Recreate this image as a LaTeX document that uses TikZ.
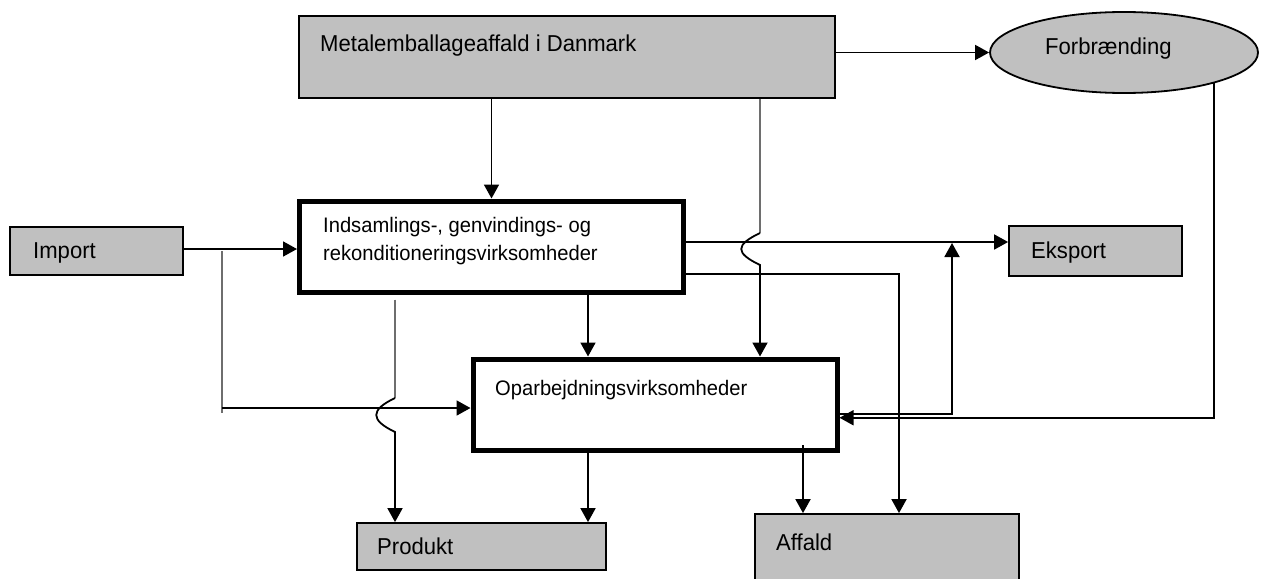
\documentclass[tikz,border=0pt]{standalone}
\usepackage{fontspec}
\setmainfont{Liberation Sans}
\newfontfamily\boxfont[FakeStretch=0.96]{Liberation Sans}
\usetikzlibrary{positioning,shapes.geometric,arrows.meta}
\definecolor{boxgray}{HTML}{C0C0C0}
\definecolor{linegray}{HTML}{6E6E6E}

\begin{document}
\begin{tikzpicture}[x=1pt,y=-1pt,>={Triangle[length=14pt,width=15pt]},
    graybox/.style={draw,line width=1.8pt,fill=boxgray,inner sep=0pt},
    thickbox/.style={draw,line width=5pt,fill=white,inner sep=0pt},
    lbl/.style={inner sep=0pt,anchor=base west,font=\boxfont\fontsize{23}{27}\selectfont},
    lblsmall/.style={inner sep=0pt,font=\boxfont\fontsize{21}{28}\selectfont},
    flow/.style={line width=1.8pt},
    faint/.style={line width=1.1pt,linegray}]
\useasboundingbox[fill=white] (0,0) rectangle (1265,578);

\node[graybox,minimum width=536pt,minimum height=82pt] (metal) at (567,57) {};
\node[graybox,ellipse,minimum width=268pt,minimum height=81pt] (forb) at (1124,52.5) {};
\node[graybox,minimum width=173pt,minimum height=48pt] (import) at (96.5,251) {};
\node[graybox,minimum width=173pt,minimum height=50pt] (eksport) at (1095.5,251) {};
\node[thickbox,minimum width=384pt,minimum height=91pt] (indsam) at (491.5,246.5) {};
\node[thickbox,minimum width=364pt,minimum height=91.5pt] (oparb) at (655,404.75) {};
\node[graybox,minimum width=249pt,minimum height=47pt] (produkt) at (481.5,546.5) {};
\node[graybox,minimum width=264pt,minimum height=90pt] (affald) at (887,559) {};

\node[lbl] (metaltxt) at (320,52) {Metalemballageaffald i Danmark};
\node[lbl] (forbtxt) at (1045,55) {Forbrænding};
\node[lbl] (importtxt) at (33,258) {Import};
\node[lbl] (eksporttxt) at (1031,258) {Eksport};
\node[lblsmall,anchor=north west,align=left] (indsamtxt) at (323,217)
    {Indsamlings-, genvindings- og\\rekonditioneringsvirksomheder};
\node[lblsmall,anchor=base west] (oparbtxt) at (495,395) {Oparbejdningsvirksomheder};
\node[lbl] (produkttxt) at (377,554) {Produkt};
\node[lbl] (affaldtxt) at (776,550) {Affald};

\coordinate (mid) at (588,0);
\coordinate (right) at (760,0);
\coordinate (left) at (395,0);
\coordinate (branch) at (222,413);
\coordinate (eks) at (0,242);
\coordinate (aff) at (899,274);
\coordinate (out) at (803,0);
\coordinate (up) at (952,243);

\draw[->,flow] (metal.east |- forb.west) -- (forb.west);
\draw[->,flow] (metal.south -| indsam.north) -- (indsam.north);
\draw[faint] (metal.south -| right) -- (right |- 0,233);
\draw[->,flow] (right |- 0,233) .. controls +(-25,12) and +(-25,-12) .. ++(0,32)
    -- (oparb.north -| right);

\draw[->,flow] (import.east |- 0,249) -- (indsam.west |- 0,249);
\draw[faint] (import.east -| branch) -- (branch);
\draw[->,flow] (branch |- 0,408) -- (oparb.west |- 0,408);

\draw[faint] ([yshift=-5pt]indsam.south -| left) -- (left |- 0,398);
\draw[->,flow] (left |- 0,398) .. controls +(-25,12) and +(-25,-12) .. ++(0,34)
    -- (produkt.north -| left);

\draw[->,flow] (indsam.east |- eks) -- (eksport.west |- eks);
\draw[->,flow] (indsam.east |- aff) -| (aff |- affald.north);
\draw[->,flow] (indsam.south -| mid) -- (oparb.north -| mid);
\draw[->,flow] (oparb.south -| mid) -- (produkt.north -| mid);
\draw[->,flow] ([yshift=8pt]oparb.south -| out) -- (affald.north -| out);

\draw[->,flow] (forb.-19) |- ([yshift=-13pt]oparb.east);
\draw[->,flow] ([yshift=-9pt]oparb.east) -| (up);
\end{tikzpicture}
\end{document}
